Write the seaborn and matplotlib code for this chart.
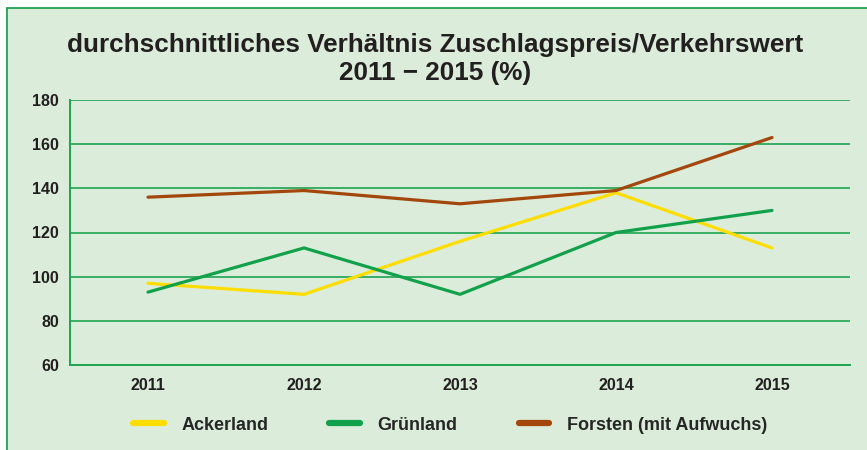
import matplotlib
matplotlib.use("Agg")
import matplotlib.pyplot as plt
import matplotlib.patches as mpatches
from matplotlib.lines import Line2D
import seaborn as sns
import pandas as pd

years = ["2011", "2012", "2013", "2014", "2015"]
ackerland = [97, 92, 116, 138, 113]
gruenland = [93, 113, 92, 120, 130]
forsten = [136, 139, 133, 139, 163]
series_names = ["Ackerland", "Grünland", "Forsten (mit Aufwuchs)"]
y_ticks = [60, 80, 100, 120, 140, 160, 180]

colors = ["#ffdd00", "#12a14b", "#a3470d"]
bg = "#dbecda"
gridc = "#1fa34f"

df = pd.DataFrame({
    "Jahr": years * 3,
    "Wert": ackerland + gruenland + forsten,
    "Serie": [series_names[0]] * 5 + [series_names[1]] * 5 + [series_names[2]] * 5,
})

sns.set_theme(style="white")
plt.rcParams["font.family"] = ["Liberation Sans Narrow", "Liberation Sans", "DejaVu Sans"]

W, H = 867, 450
fig = plt.figure(figsize=(W / 100, H / 100), dpi=100)
fig.patch.set_facecolor("white")
# background panel with green left/top border
panel = mpatches.Rectangle((7 / W, 0), 1 - 7 / W + 0.01, 1 - 8 / H,
                           transform=fig.transFigure, facecolor=bg,
                           edgecolor="none", zorder=-10)
fig.add_artist(panel)
fig.add_artist(Line2D([7 / W, 7 / W], [0, 1 - 8 / H], transform=fig.transFigure,
                      color=gridc, lw=1.3))
fig.add_artist(Line2D([7 / W, 1], [1 - 8 / H, 1 - 8 / H], transform=fig.transFigure,
                      color=gridc, lw=1.3))

ax = fig.add_axes([70 / W, 1 - 365 / H, (850 - 70) / W, (365 - 100) / H])
ax.set_facecolor("none")

sns.lineplot(data=df, x="Jahr", y="Wert", hue="Serie", palette=colors,
             linewidth=2.3, ax=ax, legend=False, sort=False)

ax.set_xlim(-0.5, 4.5)
ax.set_ylim(60, 180)
ax.set_yticks(y_ticks)
ax.set_yticklabels([str(t) for t in y_ticks], fontsize=11.5, fontweight="bold", color="#231f20")
ax.set_xticks(range(len(years)))
ax.set_xticklabels(years, fontsize=11.5, fontweight="bold", color="#231f20")
ax.tick_params(axis="x", length=0, pad=9)
ax.tick_params(axis="y", length=5, width=1.2, color=gridc, pad=3)
# minor ticks at category boundaries
ax.set_xticks([i - 0.5 for i in range(len(years) + 1)], minor=True)
ax.tick_params(axis="x", which="minor", length=6, width=1.2, color=gridc, direction="out")

ax.grid(axis="y", color=gridc, lw=1.2)
ax.set_axisbelow(True)
for s in ["top", "right"]:
    ax.spines[s].set_visible(False)
for s in ["left", "bottom"]:
    ax.spines[s].set_color(gridc)
    ax.spines[s].set_linewidth(1.4)
ax.set_xlabel("")
ax.set_ylabel("")

fig.text(435 / W, 1 - 45 / H, "durchschnittliches Verhältnis Zuschlagspreis/Verkehrswert",
         ha="center", va="center", fontsize=18.8, fontweight="bold", color="#231f20")
fig.text(435 / W, 1 - 73 / H, "2011 − 2015 (%)",
         ha="center", va="center", fontsize=18.8, fontweight="bold", color="#231f20")

handles = [Line2D([0], [0], color=c, lw=4.5) for c in colors]
fig.legend(handles, series_names, loc="center", bbox_to_anchor=(450 / W, 1 - 425 / H),
           ncol=3, frameon=False, prop={"size": 13, "weight": "bold"},
           handlelength=1.7, handletextpad=0.95, columnspacing=3.4)

fig.savefig("out.png", dpi=100, facecolor=fig.get_facecolor())
